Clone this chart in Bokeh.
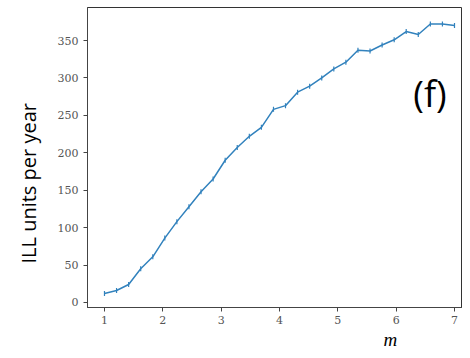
import math
from bokeh.plotting import figure
from bokeh.models import Range1d, Label, FixedTicker, Title
from bokeh.embed import file_html
from bokeh.resources import INLINE

# data
m_values = [1.000, 1.207, 1.414, 1.621, 1.828, 2.034, 2.241, 2.448, 2.655, 2.862,
            3.069, 3.276, 3.483, 3.690, 3.897, 4.103, 4.310, 4.517, 4.724, 4.931,
            5.138, 5.345, 5.552, 5.759, 5.966, 6.172, 6.379, 6.586, 6.793, 7.000]
ill_units = [12, 16, 24, 45, 61, 86, 108, 128, 148, 165,
             190, 207, 222, 234, 258, 263, 281, 289, 300, 312,
             321, 337, 336, 344, 351, 362, 358, 372, 372, 370]
x_ticks = [1, 2, 3, 4, 5, 6, 7]
y_ticks = [0, 50, 100, 150, 200, 250, 300, 350]
y_label = "ILL units per year"
x_label = "m"
panel_tag = "(f)"

LINE = "#3282bd"

p = figure(width=462, height=350, output_backend="svg", toolbar_location=None,
           x_range=Range1d(0.709, 7.137), y_range=Range1d(-6.7, 394.1),
           min_border_left=87, min_border_right=0, min_border_top=7,
           min_border_bottom=43)
p.background_fill_color = "white"
p.border_fill_color = "white"
p.outline_line_color = "#333333"
p.outline_line_width = 1
p.grid.visible = False

for ax in (p.xaxis[0], p.yaxis[0]):
    ax.axis_line_color = "#444444"
    ax.major_tick_line_color = "#444444"
    ax.major_tick_out = 4
    ax.major_tick_in = 0
    ax.minor_tick_line_color = None
    ax.major_label_text_font = "DejaVu Serif"
    ax.major_label_text_font_size = "11px"
    ax.major_label_text_color = "#555555"
p.xaxis[0].ticker = FixedTicker(ticks=x_ticks)
p.yaxis[0].ticker = FixedTicker(ticks=y_ticks)
p.xaxis[0].major_label_standoff = 4
p.yaxis[0].major_label_standoff = 5

p.line(m_values, ill_units, line_color=LINE, line_width=1.5)
p.scatter(m_values, ill_units, marker="dash", angle=math.pi / 2, size=5,
          line_color=LINE, line_width=1.2)

p.add_layout(Title(text=y_label, align="left", offset=44, standoff=24,
                   vertical_align="middle", text_font="Open Sans",
                   text_font_size="20px", text_font_style="normal",
                   text_color="black"), "left")
p.add_layout(Title(text=x_label, align="left", offset=296, standoff=0,
                   vertical_align="bottom", text_font="Liberation Serif",
                   text_font_style="italic", text_font_size="19px",
                   text_color="black"), "below")
p.add_layout(Label(x=6.58, y=279, text=panel_tag,
                   text_font="Open Sans", text_font_size="36px",
                   text_color="black", text_align="center",
                   text_baseline="middle"))

open("out.html", "w").write(file_html(p, INLINE))
